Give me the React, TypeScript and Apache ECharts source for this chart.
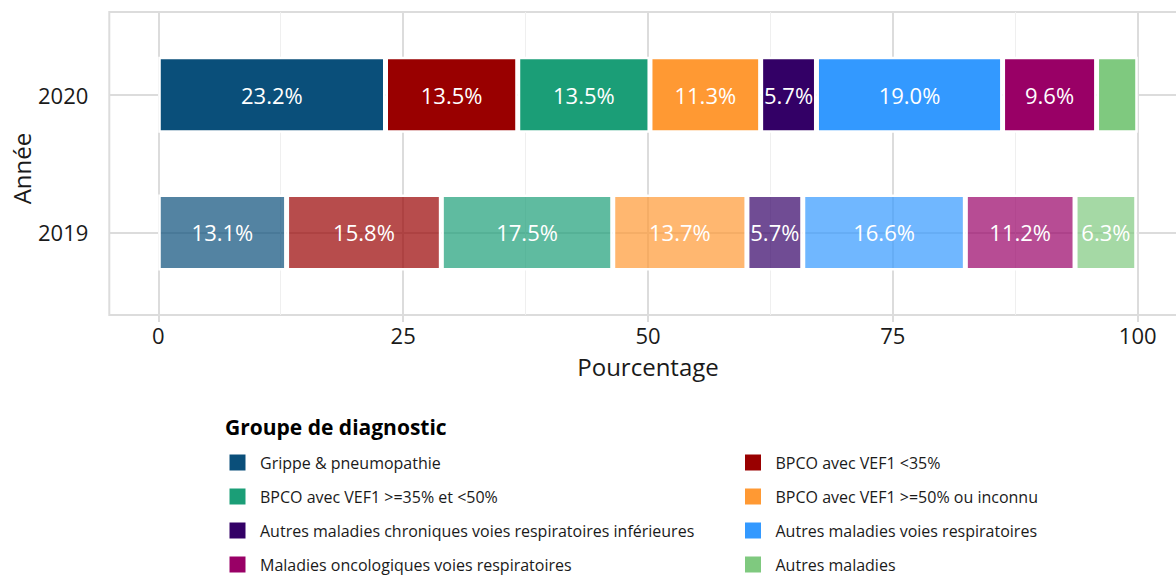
import React, { useEffect, useRef } from 'react';
import * as echarts from 'echarts';

const years = ['2019', '2020'];
const groups = [
  'Grippe & pneumopathie',
  'BPCO avec VEF1 <35%',
  'BPCO avec VEF1 >=35% et <50%',
  'BPCO avec VEF1 >=50% ou inconnu',
  'Autres maladies chroniques voies respiratoires inférieures',
  'Autres maladies voies respiratoires',
  'Maladies oncologiques voies respiratoires',
  'Autres maladies',
];
const pct2019 = [13.1, 15.8, 17.5, 13.7, 5.7, 16.6, 11.2, 6.3];
const pct2020 = [23.2, 13.5, 13.5, 11.3, 5.7, 19.0, 9.6, 4.2];
const palette = ['#0a4f7a', '#990000', '#1b9e77', '#ff9933', '#330066', '#3399ff', '#990066', '#7fc97f'];

const FONT = '"Open Sans", "Noto Sans", sans-serif';
const GRID_MAJOR = '#dcdcdc';
const GRID_MINOR = '#efefef';
const TEXT = '#1a1a1a';

function rgba(hex: string, a: number) {
  const n = parseInt(hex.slice(1), 16);
  return `rgba(${(n >> 16) & 255},${(n >> 8) & 255},${n & 255},${a})`;
}

export default function App() {
  const ref = useRef<HTMLDivElement>(null);
  useEffect(() => {
    if (!ref.current) return;
    const chart = echarts.init(ref.current, undefined, { renderer: 'svg' });
    const series = groups.map((g, i) => ({
      name: g,
      type: 'bar',
      stack: 'total',
      xAxisIndex: 2,
      yAxisIndex: 2,
      barWidth: 76,
      clip: false,
      itemStyle: { color: palette[i], borderColor: '#ffffff', borderWidth: 2.5 },
      label: {
        show: true,
        position: 'inside',
        color: '#ffffff',
        fontSize: 22,
        fontFamily: FONT,
        formatter: (p: any) => (p.value >= 5 ? p.value.toFixed(1) + '%' : ''),
      },
      data: [
        { value: pct2019[i], itemStyle: { color: rgba(palette[i], 0.7) } },
        { value: pct2020[i] },
      ],
    }));
    const legendBase = {
      orient: 'vertical',
      top: 454.5,
      icon: 'rect',
      itemWidth: 16,
      itemHeight: 16,
      itemGap: 18,
      itemStyle: { borderWidth: 0 },
      textStyle: { fontSize: 16, lineHeight: 16, color: TEXT, fontFamily: FONT, padding: [0, 0, 0, 9.5] },
      selectedMode: false,
      padding: 0,
    };
    const gridBase = { outerBoundsMode: 'none', containLabel: false };
    chart.setOption({
      animation: false,
      textStyle: { fontFamily: FONT },
      title: {
        text: 'Groupe de diagnostic',
        left: 225,
        top: 416,
        padding: 0,
        textStyle: { fontSize: 21, fontWeight: 'bold', color: '#000', fontFamily: FONT },
      },
      legend: [
        { ...legendBase, left: 229.5, data: groups.filter((_, i) => i % 2 === 0) },
        { ...legendBase, left: 745, data: groups.filter((_, i) => i % 2 === 1) },
      ],
      grid: [
        { ...gridBase, left: 109.3, top: 12, width: 1077.4, height: 303, show: true, borderColor: GRID_MAJOR, borderWidth: 2, backgroundColor: 'transparent' },
        { ...gridBase, left: 158.3, top: 12, width: 979.4, height: 303 },
        { ...gridBase, left: 109.3, top: 94.7, width: 1077.4, height: 137.7 },
      ],
      xAxis: [
        { gridIndex: 0, type: 'value', show: false },
        {
          gridIndex: 1,
          type: 'value',
          min: 0,
          max: 100,
          interval: 25,
          name: 'Pourcentage',
          nameLocation: 'middle',
          nameGap: 39,
          nameMoveOverlap: false,
          nameTextStyle: { fontSize: 24, color: TEXT, fontFamily: FONT },
          axisLine: { show: false },
          axisTick: { show: true, length: 7, lineStyle: { color: GRID_MAJOR, width: 2 } },
          axisLabel: { fontSize: 22, color: TEXT, margin: 9, fontFamily: FONT },
          splitLine: { show: true, lineStyle: { color: GRID_MAJOR, width: 2 } },
          minorTick: { show: false, splitNumber: 2 },
          minorSplitLine: { show: true, lineStyle: { color: GRID_MINOR, width: 1 } },
        },
        { gridIndex: 2, type: 'value', min: -5, max: 105, show: false },
      ],
      yAxis: [
        { gridIndex: 0, type: 'value', show: false },
        { gridIndex: 1, type: 'value', show: false },
        {
          gridIndex: 2,
          type: 'category',
          data: years,
          boundaryGap: false,
          name: 'Année',
          nameLocation: 'middle',
          nameRotate: 90,
          nameGap: 76,
          nameMoveOverlap: false,
          nameTextStyle: { fontSize: 24, color: TEXT, fontFamily: FONT, padding: [0, 10, 0, 0] },
          axisLine: { show: false },
          axisTick: { show: true, length: 7, lineStyle: { color: GRID_MAJOR, width: 2 } },
          axisLabel: { fontSize: 22, color: TEXT, margin: 21, fontFamily: FONT },
          splitLine: { show: true, lineStyle: { color: GRID_MAJOR, width: 2 } },
        },
      ],
      series,
    });
    return () => chart.dispose();
  }, []);
  return <div ref={ref} style={{ position: 'absolute', left: 0, top: 0, width: 1176, height: 576 }} />;
}
